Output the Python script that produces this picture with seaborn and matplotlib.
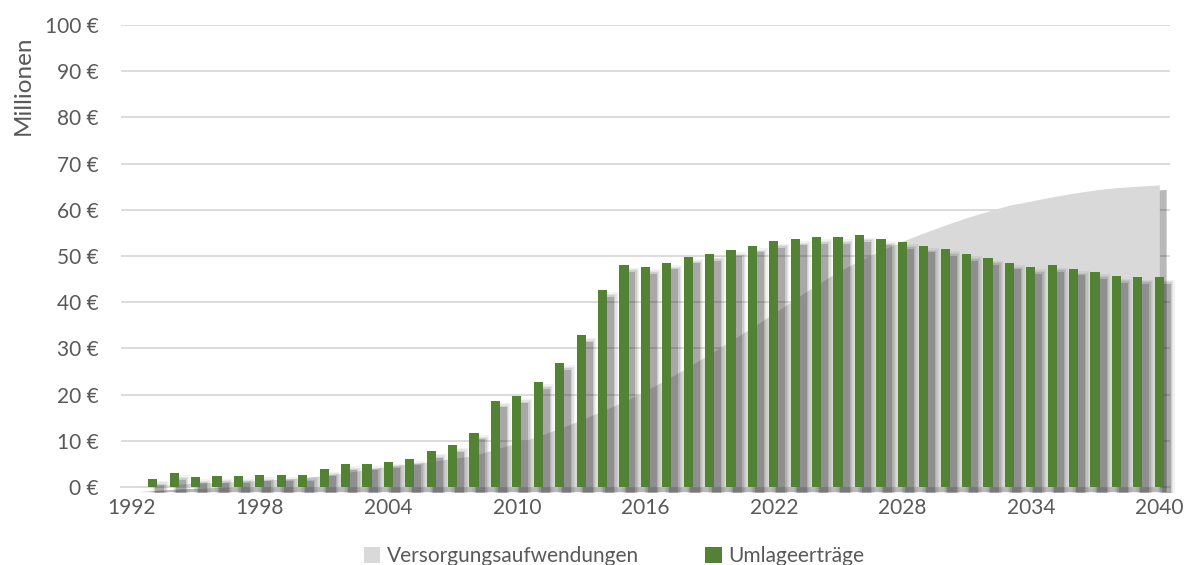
import numpy as np
import pandas as pd
import matplotlib
matplotlib.use("Agg")
import matplotlib.pyplot as plt
from matplotlib.patches import Patch
import seaborn as sns

# ---- data ----
years = list(range(1992, 2041))
bar_years = list(range(1993, 2041))
umlage = [1.8, 3.0, 2.2, 2.3, 2.3, 2.6, 2.6, 2.7, 3.8, 5.0,
          5.0, 5.5, 6.1, 7.7, 9.0, 11.7, 18.7, 19.6, 22.7, 26.8,
          32.8, 42.6, 48.0, 47.6, 48.5, 49.8, 50.4, 51.3, 52.2, 53.2,
          53.7, 54.1, 54.1, 54.5, 53.7, 53.0, 52.2, 51.5, 50.4, 49.5,
          48.5, 47.6, 48.0, 47.2, 46.5, 45.6, 45.4, 45.4]
versorgung = [0.0, 0.3, 0.6, 0.8, 1.0, 1.2, 1.4, 1.7, 2.0, 2.5,
              3.1, 3.8, 4.5, 5.0, 5.5, 6.2, 6.8, 8.2, 9.5, 11.0,
              12.7, 14.5, 16.5, 18.5, 20.8, 23.3, 26.0, 28.8, 31.7, 34.6,
              37.6, 40.7, 43.8, 46.6, 49.0, 51.2, 53.2, 55.0, 56.7, 58.3,
              59.7, 61.0, 61.9, 62.8, 63.6, 64.3, 64.8, 65.1, 65.4]
yticks = list(range(0, 101, 10))
ytick_labels = [f"{v} €" for v in yticks]
xtick_years = list(range(1992, 2041, 6))

GREEN = "#548235"
AREA = "#d9d9d9"
TXT = "#595959"

sns.set_theme(style="white")
plt.rcParams["font.family"] = ["Lato", "DejaVu Sans"]

fig = plt.figure(figsize=(11.88, 5.65), dpi=100)
ax = fig.add_axes([120.7/1188, 1-487/565, 1049.3/1188, 462/565])

order = [str(y) for y in years]
df = pd.DataFrame({"Jahr": [str(y) for y in bar_years], "Umlageerträge": umlage})

# gridlines
for v in yticks[1:]:
    ax.axhline(v, color="#d9d9d9", lw=1.3, zorder=0)

pos_all = np.arange(len(years))
vals_area = np.array(versorgung)

# area shadow + area
ax.fill_between(pos_all + 0.32, vals_area - 1.0, -1.0, color="black", alpha=0.28,
                lw=0, zorder=0.8, clip_on=False)
ax.fill_between(pos_all, vals_area, 0, color=AREA, lw=0, zorder=1)

# bars
W = 0.43
sns.barplot(data=df, x="Jahr", y="Umlageerträge", order=order, color=GREEN,
            width=W, saturation=1, ax=ax, zorder=3, linewidth=0)

# bar shadows (soft, offset right/down)
bar_pos = np.array([years.index(y) for y in bar_years])
uv = np.array(umlage)
dx, dy = 0.32, 1.4
for r, a in [(0.0, 0.18), (0.06, 0.09), (0.12, 0.06), (0.18, 0.05)]:
    top = uv - dy + r * 5.0
    bottom = -1.2
    ax.bar(bar_pos + dx, top - bottom, width=W + 2 * r, bottom=bottom,
           color="black", alpha=a, lw=0, zorder=2, clip_on=False)

ax.set_ylim(0, 100)
ax.set_xlim(-0.5, len(years) - 0.5)
ax.set_yticks(yticks)
ax.set_yticklabels(ytick_labels)
xt = [years.index(y) for y in xtick_years]
ax.set_xticks(xt)
ax.set_xticklabels([str(y) for y in xtick_years])
ax.tick_params(axis="both", length=0, labelsize=15, labelcolor=TXT)
ax.tick_params(axis="y", pad=16)
ax.tick_params(axis="x", pad=8)
ax.set_xlabel("")
ax.set_ylabel("")
for s in ["top", "right", "left"]:
    ax.spines[s].set_visible(False)
ax.spines["bottom"].set_color("#d9d9d9")
ax.spines["bottom"].set_linewidth(1.3)
ax.spines["bottom"].set_zorder(0.5)

fig.text(23/1188, 1 - 85/565, "Millionen", rotation=90, ha="center", va="center",
         fontsize=17.5, color=TXT)

handles = [Patch(facecolor=AREA, edgecolor="none", label="Versorgungsaufwendungen"),
           Patch(facecolor=GREEN, edgecolor="none", label="Umlageerträge")]
fig.legend(handles=handles, loc="center", bbox_to_anchor=(614/1188, 1 - 556/565),
           ncol=2, frameon=False, fontsize=15, labelcolor=TXT,
           handlelength=0.8, handleheight=0.8, handletextpad=0.3, columnspacing=3.2)

fig.savefig("out.png", dpi=100)
